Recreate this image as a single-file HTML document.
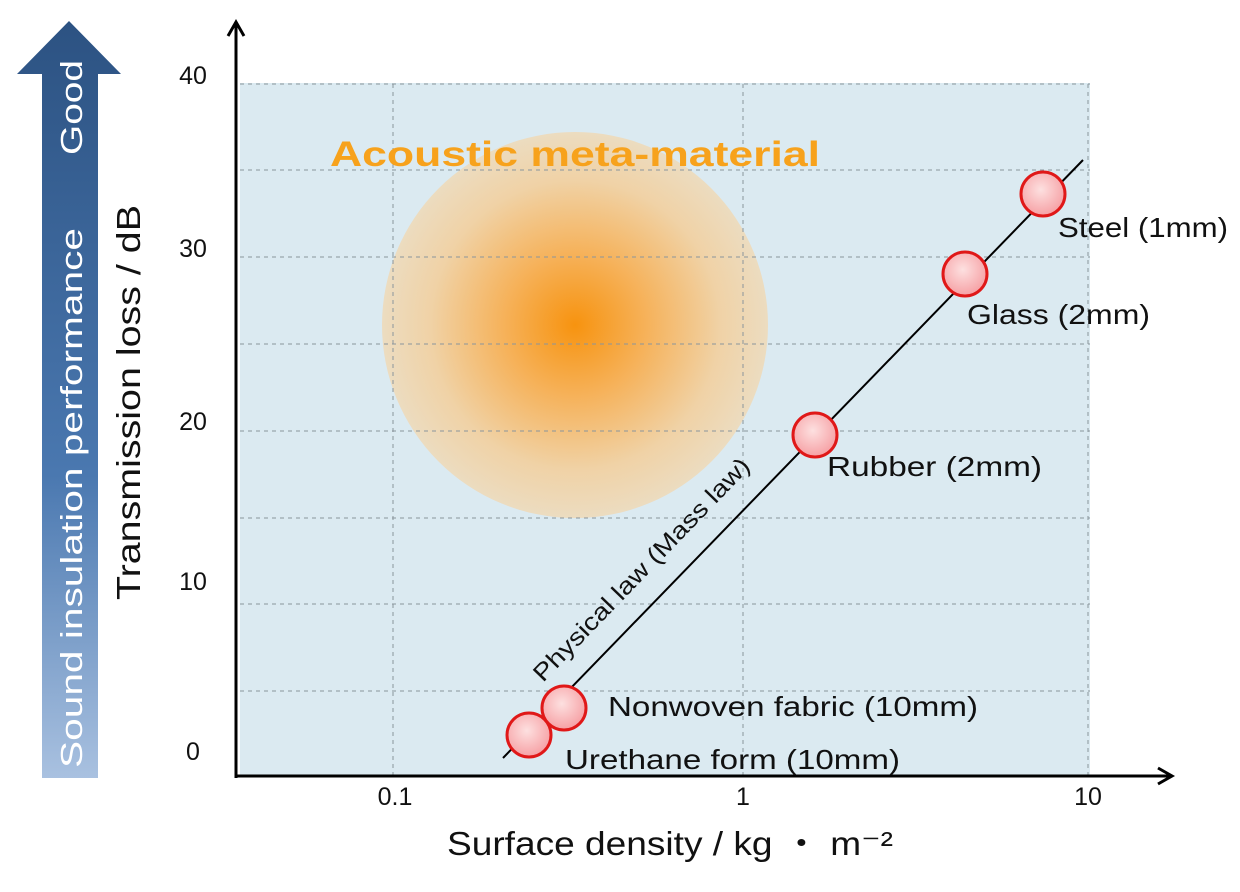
<!DOCTYPE html>
<html><head><style>body{margin:0;background:#fff}svg{display:block}text{font-family:"Liberation Sans",sans-serif}</style></head><body>
<svg width="1240" height="892" viewBox="0 0 1240 892" xmlns="http://www.w3.org/2000/svg">
<defs>
<linearGradient id="ag" x1="0" y1="0" x2="0" y2="1"><stop offset="0" stop-color="#2c5282"/><stop offset="0.6" stop-color="#4a78b0"/><stop offset="1" stop-color="#a9c1e0"/></linearGradient>
<radialGradient id="og" cx="0.5" cy="0.5" r="0.5"><stop offset="0" stop-color="#f7930f"/><stop offset="0.35" stop-color="#f6b056"/><stop offset="0.75" stop-color="#f0d2a6"/><stop offset="1" stop-color="#ecdcc0"/></radialGradient>
<radialGradient id="cg" cx="0.45" cy="0.4" r="0.6"><stop offset="0" stop-color="#fde0e0"/><stop offset="1" stop-color="#f6a0a4"/></radialGradient>
</defs>
<rect x="240" y="83" width="850" height="693" fill="#dbeaf1"/>
<circle cx="575" cy="325" r="193" fill="url(#og)"/>
<g stroke="#8a959c" stroke-width="1" stroke-dasharray="4,4">
<line x1="240" y1="84" x2="1090" y2="84"/><line x1="240" y1="170" x2="1090" y2="170"/><line x1="240" y1="257" x2="1090" y2="257"/><line x1="240" y1="344" x2="1090" y2="344"/><line x1="240" y1="431" x2="1090" y2="431"/><line x1="240" y1="518" x2="1090" y2="518"/><line x1="240" y1="604" x2="1090" y2="604"/><line x1="240" y1="691" x2="1090" y2="691"/>
<line x1="393" y1="84" x2="393" y2="776"/><line x1="743" y1="84" x2="743" y2="776"/><line x1="1088" y1="84" x2="1088" y2="776"/>
</g>
<polygon points="17,74 69,21 121,74 98,74 98,778 42,778 42,74" fill="url(#ag)"/>
<text transform="translate(82,60) rotate(-90)" fill="#fff" font-size="31" text-anchor="end" textLength="95" lengthAdjust="spacingAndGlyphs">Good</text>
<text transform="translate(82,768) rotate(-90)" fill="#fff" font-size="31" textLength="540" lengthAdjust="spacingAndGlyphs">Sound insulation performance</text>
<text transform="translate(140,600) rotate(-90)" fill="#111" font-size="33" textLength="395" lengthAdjust="spacingAndGlyphs">Transmission loss  / dB</text>
<g stroke="#000" stroke-width="3" fill="none">
<line x1="236" y1="24" x2="236" y2="778"/><polyline points="228,36 236,22 244,36"/>
<line x1="235" y1="776" x2="1170" y2="776"/><polyline points="1158,768 1172,776 1158,784"/>
</g>
<g font-size="25" fill="#111" text-anchor="middle">
<text x="193" y="84">40</text><text x="193" y="257">30</text><text x="193" y="430">20</text><text x="193" y="590">10</text><text x="193" y="760">0</text>
<text x="395" y="805">0.1</text><text x="743" y="805">1</text><text x="1088" y="805">10</text>
</g>
<text x="447" y="855" font-size="33" fill="#111" textLength="446" lengthAdjust="spacingAndGlyphs">Surface density / kg ・ m⁻²</text>
<text x="330" y="166" font-size="35" font-weight="bold" fill="#f7a21c" textLength="490" lengthAdjust="spacingAndGlyphs">Acoustic meta-material</text>
<line x1="503" y1="758" x2="1083" y2="160" stroke="#000" stroke-width="2"/>
<text transform="translate(543,683) rotate(-46)" font-size="24" fill="#111" textLength="300" lengthAdjust="spacingAndGlyphs">Physical law (Mass law)</text>
<g fill="url(#cg)" stroke="#e01818" stroke-width="3">
<circle cx="529" cy="735" r="22"/><circle cx="564" cy="708" r="22"/><circle cx="815" cy="435" r="22"/><circle cx="965" cy="274" r="22"/><circle cx="1043" cy="194" r="22"/>
</g>
<g font-size="28" fill="#111" lengthAdjust="spacingAndGlyphs">
<text x="1058" y="237" textLength="170" lengthAdjust="spacingAndGlyphs">Steel (1mm)</text>
<text x="967" y="324" textLength="183" lengthAdjust="spacingAndGlyphs">Glass (2mm)</text>
<text x="827" y="476" textLength="215" lengthAdjust="spacingAndGlyphs">Rubber (2mm)</text>
<text x="608" y="716" textLength="370" lengthAdjust="spacingAndGlyphs">Nonwoven fabric (10mm)</text>
<text x="565" y="769" textLength="335" lengthAdjust="spacingAndGlyphs">Urethane form (10mm)</text>
</g>
</svg>
</body></html>
